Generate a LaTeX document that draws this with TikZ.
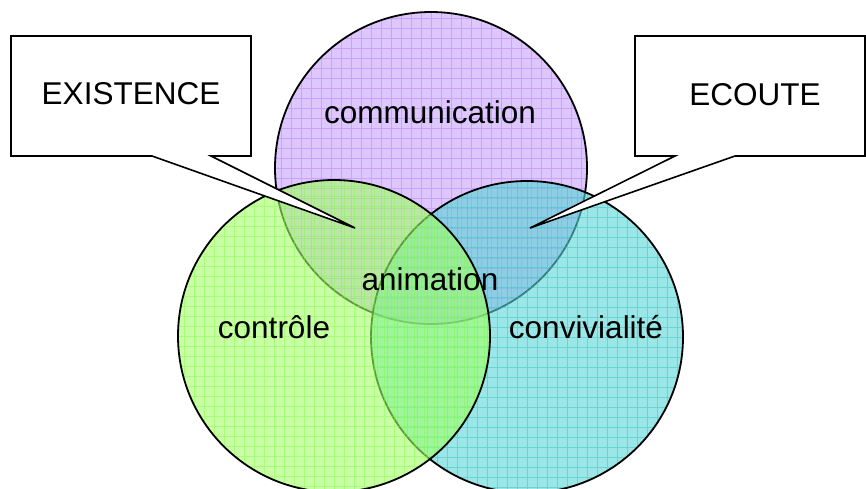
\documentclass[tikz,border=0pt]{standalone}
\usepackage{fontspec}
\setmainfont{Liberation Sans}
\definecolor{lavfill}{RGB}{200,160,255}
\definecolor{lavgrid}{RGB}{165,110,255}
\definecolor{grnfill}{RGB}{163,255,105}
\definecolor{grngrid}{RGB}{120,250,60}
\definecolor{cyafill}{RGB}{88,213,213}
\definecolor{cyagrid}{RGB}{30,190,190}
\begin{document}
\begin{tikzpicture}[x=1pt,y=-1pt,
  zone/.style={shape=circle,draw=black,line width=1.8pt,minimum size=312pt,inner sep=0pt,fill opacity=0.6},
  gridded/.style={path picture={\draw[#1,line width=0.7pt,draw opacity=0.4] (path picture bounding box.south west) grid[step=10pt] (path picture bounding box.north east);}},
  word/.style={anchor=base,font=\fontsize{31.5}{36}\selectfont},
  bubble/.style={draw=black,fill=white,line width=1.6pt,line join=miter}]
	\useasboundingbox (0,0) rectangle (866,488);
	\clip (0,0) rectangle (866,488);

	\node[zone,fill=lavfill,gridded=lavgrid] (com) at (431,168) {};
	\node[zone,fill=cyafill,gridded=cyagrid] (conv) at (527,337) {};
	\node[zone,fill=grnfill,gridded=grngrid] (ctrl) at (334,336) {};

	\node[word] (tcom)  at (430,123) {communication};
	\node[word] (tctrl) at (274,338) {contrôle};
	\node[word] (tconv) at (586,338) {convivialité};
	\node[word] (tanim) at (430,290) {animation};

	\coordinate (tipL) at (355,228);
	\coordinate (tipR) at (530,228);
	\draw[bubble] (11,36) -- (251,36) -- (251,156) -- (211,156) -- (tipL) -- (152,156) -- (11,156) -- cycle;
	\draw[bubble] (635,36) -- (865,36) -- (865,156) -- (735,156) -- (tipR) -- (675,156) -- (635,156) -- cycle;
	\node[word] (exist) at (131,104) {EXISTENCE};
	\node[word] (ecoute) at (755,105) {ECOUTE};
\end{tikzpicture}
\end{document}
